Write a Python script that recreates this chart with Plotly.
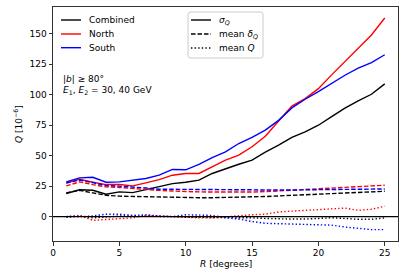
import plotly.graph_objects as go

R = list(range(1, 26))

comb_sigma = [19, 22, 21.6, 18.4, 20.3, 19.7, 22.2, 24.4, 27.1, 28.2, 29.9, 35.4, 39.5, 43, 46.3, 53, 58.6, 65, 69.6, 75, 82, 89, 95, 100.4, 108.9]
north_sigma = [27.7, 30.7, 28.2, 26.3, 26.3, 25.2, 27.7, 30.4, 34, 35.4, 35.4, 40.8, 46.3, 50.4, 57.3, 66, 78, 90.7, 96.8, 105, 116.3, 127, 138, 149, 163]
south_sigma = [28.5, 31.8, 32.3, 28.2, 28.5, 29.6, 31.3, 34, 38.7, 38.4, 42.8, 48.5, 53.2, 60, 65, 71, 79, 89.2, 96.3, 102.5, 109.5, 116, 121.8, 126.4, 132.8]

comb_delta = [19.5, 21.5, 19.5, 17.5, 16.8, 16.5, 16.2, 16, 15.8, 15.6, 15.5, 15.5, 15.6, 15.8, 16, 16.5, 17, 17.4, 17.8, 18.2, 18.7, 19.2, 19.7, 20.2, 20.8]
north_delta = [25.2, 28.5, 26.3, 24.4, 23.9, 23, 22, 21.5, 21, 20.5, 20.3, 20.2, 20, 20, 20.2, 20.5, 21, 21.8, 22.3, 23, 23.5, 24, 24.6, 25.2, 25.8]
south_delta = [27.5, 30, 28, 25.5, 25, 24.5, 23.5, 22.5, 22.5, 22.5, 22.3, 22.2, 22, 22, 22, 21.8, 21.6, 21.8, 22, 22.1, 22.2, 22.3, 22.4, 22.5, 22.7]

comb_mean = [0, 0.5, -1, 0, 0.5, 0.5, 0.5, 0.5, 0, -0.5, -0.5, -0.5, -1, -1, -1, -1.5, -2, -2, -2, -1.5, -1, -1.5, -2.2, -2.2, -1.1]
north_mean = [0, 1, -3, -2.5, -2, -1, 1, 0.5, -0.5, -1, -1, -1, 0, 1, 1.5, 2, 3.8, 4.5, 5, 5.7, 6.5, 7, 5.2, 6, 8.5]
south_mean = [-0.5, 0, 0.5, 2, 2, 1, 1.5, 0.5, 0, 1.5, 1.5, 1, -1, -2, -4, -5.5, -5.8, -6.2, -6.5, -6.6, -7, -8.5, -9.5, -10.7, -10.7]

x_ticks = [0, 5, 10, 15, 20, 25]
y_ticks = [0, 25, 50, 75, 100, 125, 150]

series_names = ["Combined", "North", "South"]
series_colors = ["black", "#ff0000", "#0000ff"]
style_labels = ["<i>σ</i><sub><i>Q</i></sub>", "mean <i>δ</i><sub><i>Q</i></sub>", "mean <i>Q</i>"]

FONT = "DejaVu Sans"
FS = 9
DASH = "4.5px,2px"
DOT = "1.4px,2.2px"
LW = 1.4

W, H = 407, 271
L, RM, T, B = 53, 9, 7, 30
PW, PH = W - L - RM, H - T - B


def px(x):
    return (x - L) / PW


def py(y):
    return (H - B - y) / PH


fig = go.Figure()

sigma = [comb_sigma, north_sigma, south_sigma]
delta = [comb_delta, north_delta, south_delta]
meanq = [comb_mean, north_mean, south_mean]

for name, col, s in zip(series_names, series_colors, sigma):
    fig.add_trace(go.Scatter(x=R, y=s, mode="lines", name=name, showlegend=False,
                             line=dict(color=col, width=LW)))
for name, col, d in zip(series_names, series_colors, delta):
    fig.add_trace(go.Scatter(x=R, y=d, mode="lines", showlegend=False,
                             line=dict(color=col, width=LW, dash=DASH)))
for name, col, m in zip(series_names, series_colors, meanq):
    fig.add_trace(go.Scatter(x=R, y=m, mode="lines", showlegend=False,
                             line=dict(color=col, width=LW, dash=DOT)))

fig.add_hline(y=0, line=dict(color="black", width=1.1))

axis_common = dict(showgrid=False, zeroline=False, showline=True, mirror=True,
                   linecolor="#333333", linewidth=1, ticks="outside", ticklen=3.5,
                   tickwidth=1, tickcolor="#333333", automargin=False,
                   tickfont=dict(family=FONT, size=FS, color="black"))

fig.update_layout(
    width=W, height=H,
    margin=dict(l=L, r=RM, t=T, b=B),
    paper_bgcolor="white", plot_bgcolor="white",
    font=dict(family=FONT, size=FS, color="black"),
    xaxis=dict(range=[0, 26], tickvals=x_ticks, **axis_common),
    yaxis=dict(range=[-20, 172], tickvals=y_ticks, **axis_common),
    showlegend=False,
)


def rounded_box(x0, y0, x1, y1, r=2.5):
    X0, X1 = px(x0), px(x1)
    Y0, Y1 = py(y0), py(y1)
    rx, ry = r / PW, r / PH
    return (f"M {X0+rx},{Y0} L {X1-rx},{Y0} Q {X1},{Y0} {X1},{Y0-ry} "
            f"L {X1},{Y1+ry} Q {X1},{Y1} {X1-rx},{Y1} L {X0+rx},{Y1} "
            f"Q {X0},{Y1} {X0},{Y1+ry} L {X0},{Y0-ry} Q {X0},{Y0} {X0+rx},{Y0} Z")


shapes = []
annotations = []


def legend(box, sample_x0, sample_x1, text_x, rows):
    shapes.append(dict(type="path", xref="paper", yref="paper", path=rounded_box(*box),
                       fillcolor="rgba(255,255,255,0.85)", line=dict(color="#cccccc", width=1)))
    for (ypix, col, dash, label) in rows:
        shapes.append(dict(type="line", xref="paper", yref="paper",
                           x0=px(sample_x0), x1=px(sample_x1), y0=py(ypix), y1=py(ypix),
                           line=dict(color=col, width=LW, dash=dash)))
        annotations.append(dict(x=px(text_x), y=py(ypix), xref="paper", yref="paper",
                                xanchor="left", yanchor="middle", text=label, showarrow=False,
                                font=dict(family=FONT, size=FS, color="black")))


legend((58, 12, 139, 57), 61, 81, 86.5,
       [(20, series_colors[0], "solid", series_names[0]),
        (34, series_colors[1], "solid", series_names[1]),
        (47.7, series_colors[2], "solid", series_names[2])])
legend((188, 12, 263, 58), 191, 211, 216.5,
       [(20, "black", "solid", style_labels[0]),
        (34, "black", DASH, style_labels[1]),
        (48, "black", DOT, style_labels[2])])

annotations.append(dict(x=px(61), y=py(79), xref="paper", yref="paper", xanchor="left", yanchor="middle",
                        text="|<i>b</i>| ≥ 80°", showarrow=False, font=dict(family=FONT, size=FS)))
annotations.append(dict(x=px(61), y=py(90.5), xref="paper", yref="paper", xanchor="left", yanchor="middle",
                        text="<i>E</i><sub>1</sub>, <i>E</i><sub>2</sub> = 30, 40 GeV", showarrow=False,
                        font=dict(family=FONT, size=FS)))
annotations.append(dict(x=px(225.5), y=py(264), xref="paper", yref="paper", xanchor="center", yanchor="middle",
                        text="<i>R</i> [degrees]", showarrow=False, font=dict(family=FONT, size=FS)))
annotations.append(dict(x=px(18), y=py(124), xref="paper", yref="paper", xanchor="center", yanchor="middle",
                        text="<i>Q</i> [10<sup>−6</sup>]", textangle=-90, showarrow=False,
                        font=dict(family=FONT, size=FS)))

fig.update_layout(shapes=shapes, annotations=annotations)

fig.write_html("out.html", config={"displayModeBar": False},
               post_script="document.body.style.margin='0';document.body.style.padding='0';")
